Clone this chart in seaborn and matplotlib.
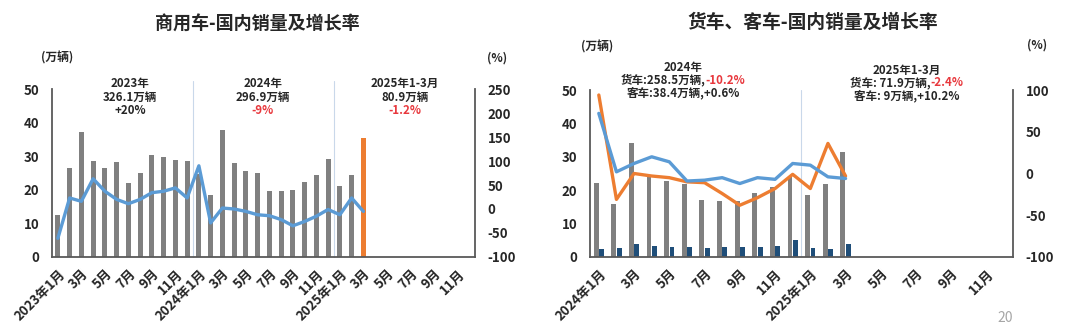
import numpy as np
import pandas as pd
import matplotlib
matplotlib.use("Agg")
import matplotlib.pyplot as plt
import seaborn as sns

# ---------------- data ----------------
# Left chart: commercial vehicles, monthly domestic sales (10k units) and YoY growth (%)
cv_months_all = [f"{y}-{m:02d}" for y in (2023, 2024, 2025) for m in range(1, 13)]
cv_sales = [12.6, 26.4, 37.3, 28.7, 26.5, 28.3, 21.9, 24.9, 30.5, 29.7, 28.8, 28.5,
            24.7, 18.6, 37.9, 28.0, 25.7, 25.1, 19.6, 19.7, 19.9, 22.3, 24.3, 29.1,
            21.2, 24.3, 35.4]
cv_growth = [-61, 23, 16, 63, 37, 20, 11, 20, 34, 37, 44, 23,
             90, -29, 2, 0, -5, -12, -14, -22, -35, -26, -15, -1,
             -12, 23, -5]
cv_tick_labels = ["2023年1月", "3月", "5月", "7月", "9月", "11月",
                  "2024年1月", "3月", "5月", "7月", "9月", "11月",
                  "2025年1月", "3月", "5月", "7月", "9月", "11月"]

# Right chart: trucks and buses
tb_months_all = [f"{y}-{m:02d}" for y in (2024, 2025) for m in range(1, 13)]
truck_sales = [22.3, 16.0, 34.0, 24.6, 22.8, 22.0, 17.0, 16.8, 16.8, 19.2, 20.9, 24.1,
               18.6, 21.9, 31.4]
bus_sales = [2.4, 2.6, 3.9, 3.4, 2.9, 3.1, 2.6, 2.9, 3.1, 3.1, 3.4, 5.0,
             2.6, 2.4, 4.0]
truck_growth = [94, -31, 0, -3, -5, -10, -11, -24, -38, -29, -18, -1,
                -18, 36, -3]
bus_growth = [72, 2, 12, 20, 14, -9, -8, -5, -12, -5, -7, 12,
              10, -4, -6]
tb_tick_labels = ["2024年1月", "3月", "5月", "7月", "9月", "11月",
                  "2025年1月", "3月", "5月", "7月", "9月", "11月"]

# ---------------- style ----------------
GRAY = "#808080"
ORANGE = "#ed7d31"
BLUE = "#5b9bd5"
NAVY = "#1f4e79"
RED = "#e8383d"
SPINE = "#595959"
TXT = "#262626"
SEP = "#c9d8ea"

sns.set_theme(style="white")
plt.rcParams["font.family"] = ["Noto Sans CJK SC", "DejaVu Sans"]
plt.rcParams["font.weight"] = "bold"
plt.rcParams["axes.unicode_minus"] = False

W, H = 1080, 334
fig = plt.figure(figsize=(W / 100, H / 100), dpi=100)


def px_axes(x0, x1, ytop, ybot):
    return fig.add_axes([x0 / W, 1 - ybot / H, (x1 - x0) / W, (ybot - ytop) / H])


def ftext(x, y, s, **kw):
    kw.setdefault("ha", "center")
    kw.setdefault("va", "center")
    kw.setdefault("color", TXT)
    kw.setdefault("fontweight", "bold")
    return fig.text(x / W, 1 - y / H, s, **kw)


def style_axes(ax, axr):
    for side in ("top", "right"):
        ax.spines[side].set_visible(False)
    for side in ("top", "left", "bottom"):
        axr.spines[side].set_visible(False)
    for sp in (ax.spines["left"], ax.spines["bottom"], axr.spines["right"]):
        sp.set_color(SPINE)
        sp.set_linewidth(1.3)
    ax.tick_params(axis="both", length=0, labelsize=9.5, labelcolor=TXT)
    ax.tick_params(axis="y", pad=9)
    ax.tick_params(axis="x", pad=7)
    axr.tick_params(axis="both", length=0, labelsize=9.5, labelcolor=TXT, pad=9)
    ax.set_xlabel("")
    ax.set_ylabel("")
    axr.set_xlabel("")
    axr.set_ylabel("")
    for lab in ax.get_yticklabels() + axr.get_yticklabels():
        lab.set_fontweight("bold")


# ---------------- left chart ----------------
ax1 = px_axes(52, 475, 89, 257)
df_cv = pd.DataFrame({"month": cv_months_all[:len(cv_sales)], "sales": cv_sales,
                      "growth": cv_growth})
bar_colors = {m: GRAY for m in df_cv["month"]}
bar_colors[df_cv["month"].iloc[-1]] = ORANGE
sns.barplot(data=df_cv, x="month", y="sales", hue="month", palette=bar_colors,
            order=cv_months_all, width=0.44, legend=False, ax=ax1, saturation=1,
            edgecolor="none", linewidth=0)
ax1r = ax1.twinx()
pos_cv = [cv_months_all.index(m) for m in df_cv["month"]]
sns.lineplot(x=pos_cv, y=df_cv["growth"], ax=ax1r, color=BLUE, linewidth=2.4)
ax1.set_xlim(-0.5, len(cv_months_all) - 0.5)
ax1.set_ylim(0, 50)
ax1.set_yticks(range(0, 51, 10))
ax1r.set_ylim(-100, 250)
ax1r.set_yticks(range(-100, 251, 50))
ax1.set_xticks(range(0, len(cv_months_all), 2))
ax1.set_xticklabels(cv_tick_labels, rotation=45, ha="right", rotation_mode="anchor",
                    fontsize=9.5, fontweight="bold")
style_axes(ax1, ax1r)
for xb in (11.5, 23.5):
    ax1.axvline(xb, ymin=0, ymax=1.05, color=SEP, lw=0.8, clip_on=False, zorder=0)

# ---------------- right chart ----------------
ax2 = px_axes(590, 1013, 90, 257)
n_tb = len(truck_sales)
df_tb = pd.DataFrame({
    "month": tb_months_all[:n_tb] * 2,
    "type": ["货车"] * n_tb + ["客车"] * n_tb,
    "sales": truck_sales + bus_sales,
})
sns.barplot(data=df_tb, x="month", y="sales", hue="type", order=tb_months_all,
            hue_order=["货车", "客车"], palette=[GRAY, NAVY], width=0.6, gap=0.08,
            legend=False, ax=ax2, saturation=1, edgecolor="none", linewidth=0)
ax2r = ax2.twinx()
pos_tb = list(range(n_tb))
sns.lineplot(x=pos_tb, y=truck_growth, ax=ax2r, color=ORANGE, linewidth=2.4)
sns.lineplot(x=pos_tb, y=bus_growth, ax=ax2r, color=BLUE, linewidth=2.4)
ax2.set_xlim(-0.5, len(tb_months_all) - 0.5)
ax2.set_ylim(0, 50)
ax2.set_yticks(range(0, 51, 10))
ax2r.set_ylim(-100, 100)
ax2r.set_yticks(range(-100, 101, 50))
ax2.set_xticks(range(0, len(tb_months_all), 2))
ax2.set_xticklabels(tb_tick_labels, rotation=45, ha="right", rotation_mode="anchor",
                    fontsize=9.5, fontweight="bold")
style_axes(ax2, ax2r)
ax2.axvline(11.5, ymin=0, ymax=1.0, color=SEP, lw=0.8, zorder=0)

# ---------------- titles & labels ----------------
ftext(257, 24, "商用车-国内销量及增长率", fontsize=13)
ftext(813, 22, "货车、客车-国内销量及增长率", fontsize=13.5)
ftext(57, 58, "(万辆)", fontsize=8.5)
ftext(497, 58, "(%)", fontsize=8.5)
ftext(597, 47, "(万辆)", fontsize=8.5)
ftext(1037, 45, "(%)", fontsize=8.5)
ftext(1005, 318, "20", fontsize=10, color="#a6a6a6", fontweight="normal")

ANN = 8.3
# left annotations
for xc, lines in [
    (130, [("2023年", TXT), ("326.1万辆", TXT), ("+20%", TXT)]),
    (263, [("2024年", TXT), ("296.9万辆", TXT), ("-9%", RED)]),
    (405, [("2025年1-3月", TXT), ("80.9万辆", TXT), ("-1.2%", RED)]),
]:
    for i, (s, c) in enumerate(lines):
        ftext(xc, 83 + 14 * i, s, fontsize=ANN, color=c)

# multi-colour centred lines
multi = []


def multi_line(xc, y, parts, size=ANN):
    first = ftext(xc, y, parts[0][0], fontsize=size, color=parts[0][1], ha="left")
    prev = first
    arts = [first]
    for s, c in parts[1:]:
        t = ax2.annotate(s, xy=(1, 0.5), xycoords=prev, ha="left", va="center",
                         fontsize=size, color=c, fontweight="bold",
                         annotation_clip=False)
        arts.append(t)
        prev = t
    multi.append((xc, y, arts))


ftext(683, 67, "2024年", fontsize=ANN)
multi_line(683, 80, [("货车:258.5万辆,", TXT), ("-10.2%", RED)])
multi_line(683, 93, [("客车:38.4万辆,+0.6%", TXT)])
ftext(907, 70, "2025年1-3月", fontsize=ANN)
multi_line(907, 83, [("货车: 71.9万辆,", TXT), ("-2.4%", RED)])
multi_line(907, 96, [("客车: 9万辆,+10.2%", TXT)])

fig.canvas.draw()
r = fig.canvas.get_renderer()
for xc, y, arts in multi:
    x0 = arts[0].get_window_extent(r).x0
    x1 = arts[-1].get_window_extent(r).x1
    w = x1 - x0
    arts[0].set_position(((xc - w / 2) / W, 1 - y / H))

fig.savefig("out.png", dpi=100)
